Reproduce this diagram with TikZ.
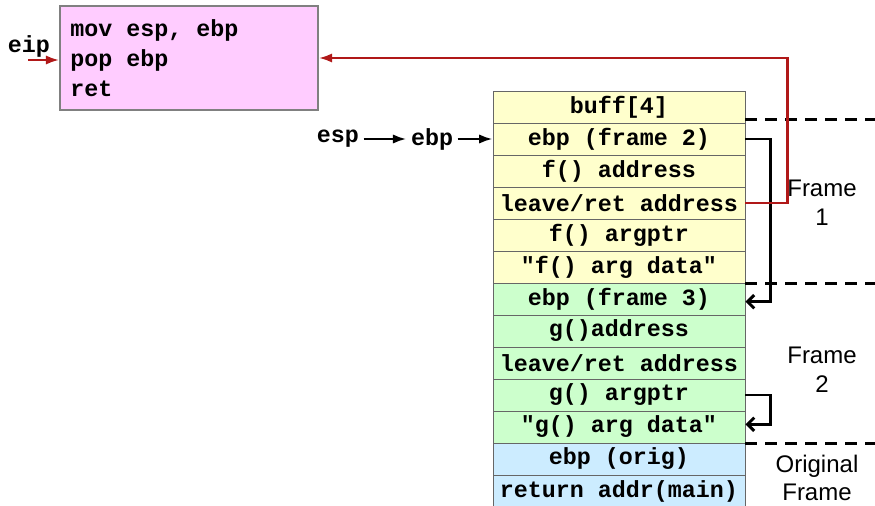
\documentclass[tikz,border=0pt]{standalone}
\usepackage{fontspec}
\setmainfont{Liberation Sans}
\newfontfamily\codefont{Liberation Mono}
\usetikzlibrary{arrows.meta}
\definecolor{codepink}{RGB}{255,204,255}
\definecolor{frameyellow}{RGB}{255,255,204}
\definecolor{framegreen}{RGB}{204,255,204}
\definecolor{frameblue}{RGB}{204,236,255}
\definecolor{retred}{RGB}{176,24,24}
\begin{document}
\begin{tikzpicture}[x=0.75pt,y=-0.75pt]
        \tikzstyle{slot}=[draw=black!60, line width=0.7pt, minimum width=189pt, minimum height=24pt, inner sep=0pt, font=\codefont\bfseries\fontsize{17.5}{20}\selectfont]
        \tikzstyle{code}=[font=\codefont\bfseries\fontsize{17.5}{20}\selectfont]
        \tikzstyle{lbl}=[align=center, font=\fontsize{18}{21.5}\selectfont]
        \tikzstyle{ptr}=[line width=1.8pt, -{Latex[length=10pt,width=7pt]}]
        \tikzstyle{link}=[line width=2.2pt, -{Straight Barb[length=5pt,width=10pt]}]
        \tikzstyle{bound}=[line width=2pt, dash pattern=on 9pt off 6pt]

        \useasboundingbox (0,0) rectangle (875,506);

        % code box
        \node[draw=black!50, line width=1.3pt, fill=codepink, minimum width=193.5pt, minimum height=78pt] (leave) at (189,58) {};
        \node[code, align=left, anchor=west, inner sep=0pt] (leavecode) at (70,58)
              {mov esp, ebp\\[2.5pt]pop ebp\\[2.5pt]ret};
        \node[code] (eip) at (29,46) {eip};
        \coordinate (eipin) at (28,60);

        % stack
        \node[slot, fill=frameyellow] (buff)  at (619,107) {buff[4]};
        \node[slot, fill=frameyellow] (f2)    at (619,139) {ebp (frame 2)};
        \node[slot, fill=frameyellow] (faddr) at (619,171) {f() address};
        \node[slot, fill=frameyellow] (fret)  at (619,203) {leave/ret address};
        \node[slot, fill=frameyellow] (fargp) at (619,235) {f() argptr};
        \node[slot, fill=frameyellow] (fdata) at (619,267) {"f() arg data"};
        \node[slot, fill=framegreen] (f3)     at (619,299) {ebp (frame 3)};
        \node[slot, fill=framegreen] (gaddr)  at (619,331) {g()address};
        \node[slot, fill=framegreen] (gret)   at (619,363) {leave/ret address};
        \node[slot, fill=framegreen] (gargp)  at (619,395) {g() argptr};
        \node[slot, fill=framegreen] (gdata)  at (619,427) {"g() arg data"};
        \node[slot, fill=frameblue] (orig)    at (619,459) {ebp (orig)};
        \node[slot, fill=frameblue] (mainret) at (619,491) {return addr(main)};

        \node[code] (esp) at (338,139) {esp};
        \node[code] (ebp) at (432,139) {ebp};

        % frame labels
        \node[lbl] (frame1) at (822,203) {Frame\\1};
        \node[lbl] (frame2) at (822,370) {Frame\\2};
        \node[lbl] (frame0) at (817,478) {Original\\Frame};

        % frame boundaries
        \draw[bound] ([yshift=3pt]buff.south east) -- ++(130,0);
        \draw[bound] (fdata.south east) -- ++(130,0);
        \draw[bound] (gdata.south east) -- ++(130,0);
        \draw[black!60, line width=0.8pt, dash pattern=on 4pt off 3pt] ([yshift=1pt]mainret.south east) -- ++(130,0);

        % pointers
        \draw[ptr] (esp) -- (ebp);
        \draw[ptr] (ebp) -- (f2.west);
        \draw[link] (f2.east) -- ++(25,0) |- ([yshift=-2pt]f3.east);
        \draw[link] (gargp.east) -- ++(25,0) |- ([yshift=2pt]gdata.east);
        \draw[ptr, retred] (fret.east) -- ++(42,0) |- (leave.east);
        \draw[ptr, retred] (eipin) -- (eipin -| leave.west);
    \end{tikzpicture}
\end{document}
